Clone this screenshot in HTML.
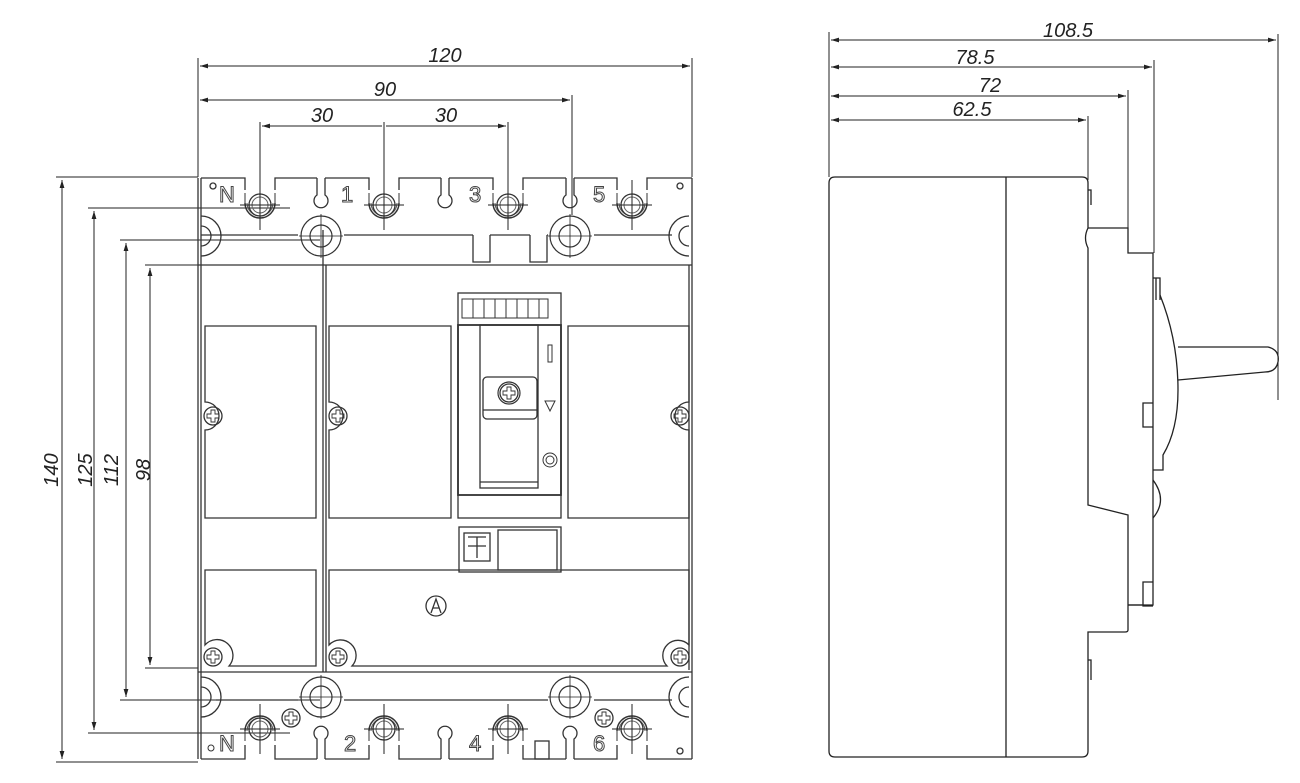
<!DOCTYPE html>
<html><head><meta charset="utf-8"><style>
html,body{margin:0;padding:0;background:#fff}
svg{display:block}
text{font-family:"Liberation Sans",sans-serif}
.d{font-style:italic;font-size:20px;fill:#222}
.l{font-size:22px;fill:#fff;stroke:#444;stroke-width:1}
</style></head><body>
<svg width="1300" height="783" viewBox="0 0 1300 783" xmlns="http://www.w3.org/2000/svg">
<defs>
<marker id="a" viewBox="0 0 10 6" refX="10" refY="3" markerWidth="8" markerHeight="5" orient="auto-start-reverse"><path d="M0,0 L10,3 L0,6 z" fill="#222"/></marker>
<g id="scr"><circle r="9" fill="none" stroke="#333" stroke-width="1.3"/><path d="M-2,-6 h4 v4 h4 v4 h-4 v4 h-4 v-4 h-4 v-4 h4 z" fill="none" stroke="#333" stroke-width="0.9"/></g>
<g id="tt"><path d="M-15,-2 A15,15 0 0 0 15,-2" fill="none" stroke="#333" stroke-width="1.5"/><path d="M-13,-2 A13,13 0 0 0 13,-2" fill="none" stroke="#555" stroke-width="1"/><path d="M-15,-2 v-10 M15,-2 v-10" stroke="#333" fill="none"/><circle r="11" fill="none" stroke="#333" stroke-width="1.3"/><circle r="8" fill="none" stroke="#666"/><path d="M-20,0 H20 M0,-25 V25" stroke="#222"/></g>
<g id="mh"><circle r="20" fill="none" stroke="#333" stroke-width="1.2"/><circle r="11" fill="none" stroke="#333" stroke-width="1.2"/><path d="M-22,0 H22 M0,-22 V22" stroke="#222" stroke-width=".8"/></g>
</defs>
<g stroke="#222" stroke-width="1" fill="none">
<path d="M198,58 V177 M692,58 V177"/>
<path d="M200,66 H690" marker-start="url(#a)" marker-end="url(#a)"/>
<path d="M200,100 H570" marker-start="url(#a)" marker-end="url(#a)"/>
<path d="M572,95 V215"/>
<path d="M260,122 V230 M384,122 V230 M508,122 V230"/>
<path d="M262,126 H382 M386,126 H506" marker-start="url(#a)" marker-end="url(#a)"/>
<path d="M56,177 H198 M56,762 H198"/>
<path d="M88,208 H290 M88,733 H290"/>
<path d="M120,240 H320 M120,700 H320"/>
<path d="M145,265 H198 M145,668 H198"/>
<path d="M62,180 V759" marker-start="url(#a)" marker-end="url(#a)"/>
<path d="M94,211 V730" marker-start="url(#a)" marker-end="url(#a)"/>
<path d="M126,243 V697" marker-start="url(#a)" marker-end="url(#a)"/>
<path d="M150,268 V665" marker-start="url(#a)" marker-end="url(#a)"/>
</g>
<text class="d" transform="translate(58,470) rotate(-90)" text-anchor="middle">140</text>
<text class="d" transform="translate(92,470) rotate(-90)" text-anchor="middle">125</text>
<text class="d" transform="translate(118,470) rotate(-90)" text-anchor="middle">112</text>
<text class="d" transform="translate(150,470) rotate(-90)" text-anchor="middle">98</text>
<text class="d" x="445" y="62" text-anchor="middle">120</text>
<text class="d" x="385" y="96" text-anchor="middle">90</text>
<text class="d" x="322" y="122" text-anchor="middle">30</text>
<text class="d" x="446" y="122" text-anchor="middle">30</text>

<g stroke="#333" stroke-width="1.3" fill="none">
<path d="M198,178 V759 M201,178 V759 M692,178 V759 M689,265 V670"/>
<path d="M201,178 H245 V190 M275,190 V178 H317 M325,178 H369 V190 M399,190 V178 H441 M449,178 H493 V190 M523,190 V178 H566 M574,178 H617 V190 M647,190 V178 H692"/>
<path d="M201,759 H245 V745 M275,745 V759 H317 M325,759 H369 V745 M399,745 V759 H441 M449,759 H493 V745 M523,745 V759 H566 M574,759 H617 V745 M647,745 V759 H692"/>
<path d="M317,178 V195 A7,7 0 1 0 325,195 V178"/>
<path d="M441,178 V195 A7,7 0 1 0 449,195 V178"/>
<path d="M566,178 V195 A7,7 0 1 0 574,195 V178"/>
<path d="M317,759 V739 A7,7 0 1 1 325,739 V759"/>
<path d="M441,759 V739 A7,7 0 1 1 449,739 V759"/>
<path d="M566,759 V739 A7,7 0 1 1 574,739 V759"/>
<rect x="535" y="741" width="14" height="18"/>
<circle cx="213" cy="186" r="3"/><circle cx="680" cy="186" r="3"/>
<circle cx="680" cy="751" r="3"/>
<path d="M201,235 H298 M344,235 H473 M490,235 H530 M547,235 H548 M594,235 H672"/>
<path d="M198,265 H692"/>
<path d="M198,672 H692"/>
<path d="M344,700 H548 M216,700 H298 M594,700 H672"/>
<path d="M323,230 V672 M326,265 V672"/>
<path d="M473,235 V262 H490 V235 M530,235 V262 H547 V235"/>
<path d="M201,216 A20,20 0 0 1 201,256 M201,226 A10,10 0 0 1 201,246"/>
<path d="M689,216 A20,20 0 0 0 689,256 M689,226 A10,10 0 0 0 689,246"/>
<path d="M201,677 A20,20 0 0 1 201,717 M201,687 A10,10 0 0 1 201,707"/>
<path d="M689,677 A20,20 0 0 0 689,717 M689,687 A10,10 0 0 0 689,707"/>
<path d="M205,326 H316 V518 H205 V430 A14,14 0 0 0 205,402 Z"/>
<path d="M329,326 H451 V518 H329 V430 A14,14 0 0 0 329,402 Z"/>
<path d="M568,326 H689 V402 A14,14 0 0 0 689,430 V518 H568 Z"/>
<path d="M205,570 H316 V666 H229 A14,14 0 0 0 205,645 Z"/>
<path d="M329,570 H689 V645 A14,14 0 0 0 667,666 H352 A14,14 0 0 0 329,645 Z"/>
<rect x="458" y="293" width="103" height="225"/>
<rect x="458" y="325" width="103" height="170" stroke-width="1.8"/>
<rect x="480" y="325" width="58" height="163"/>
<path d="M480,482 H538"/>
<rect x="483" y="377" width="54" height="42" rx="4"/>
<path d="M483,410 H537"/>
<rect x="548" y="345" width="4" height="17" stroke-width="1"/>
<path d="M545,401 L555,401 L550,411 Z" stroke-width="1"/>
<circle cx="550" cy="460" r="7" stroke-width="1"/><circle cx="550" cy="460" r="4" stroke-width="1"/>
<rect x="459" y="527" width="102" height="45"/>
<rect x="464" y="533" width="26" height="28"/>
<path d="M468,537 H486 M477,537 V558 M468,546 H486"/>
<rect x="498" y="530" width="59" height="40"/>
<circle cx="436" cy="606" r="10"/><path d="M431,613 L436,599 L441,613 M433,608 H439"/>
</g>
<g stroke="#333" stroke-width="1" fill="none">
<rect x="473" y="299" width="11" height="19"/><rect x="484" y="299" width="11" height="19"/><rect x="495" y="299" width="11" height="19"/><rect x="506" y="299" width="11" height="19"/><rect x="517" y="299" width="11" height="19"/><rect x="528" y="299" width="11" height="19"/><rect x="539" y="299" width="9" height="19"/><rect x="462" y="299" width="11" height="19"/>
</g>
<use href="#scr" x="509" y="393"/>
<circle cx="509" cy="393" r="11" fill="none" stroke="#333" stroke-width="1.2"/>
<use href="#scr" x="213" y="416"/><use href="#scr" x="338" y="416"/><use href="#scr" x="680" y="416"/>
<use href="#scr" x="213" y="657"/><use href="#scr" x="338" y="657"/><use href="#scr" x="680" y="657"/>
<use href="#scr" x="291" y="718"/><use href="#scr" x="604" y="718"/>
<use href="#mh" x="321" y="236"/><use href="#mh" x="570" y="236"/>
<use href="#mh" x="321" y="697"/><use href="#mh" x="570" y="697"/>
<use href="#tt" x="260" y="205"/><use href="#tt" x="384" y="205"/><use href="#tt" x="508" y="205"/><use href="#tt" x="632" y="205"/>
<g transform="translate(0,934) scale(1,-1)"><use href="#tt" x="260" y="205"/><use href="#tt" x="384" y="205"/><use href="#tt" x="508" y="205"/><use href="#tt" x="632" y="205"/></g>
<text class="l" x="219" y="202">N</text><text class="l" x="341" y="202">1</text><text class="l" x="469" y="202">3</text><text class="l" x="593" y="202">5</text>
<text class="l" x="219" y="751">N</text><text class="l" x="344" y="751">2</text><text class="l" x="469" y="751">4</text><text class="l" x="593" y="751">6</text>
<circle cx="211" cy="748" r="3" fill="none" stroke="#333"/>

<g stroke="#222" stroke-width="1" fill="none">
<path d="M829,32 V177 M1278,34 V400 M1154,60 V253 M1128,90 V228 M1088,116 V180"/>
<path d="M831,40 H1276" marker-start="url(#a)" marker-end="url(#a)"/>
<path d="M831,67 H1152" marker-start="url(#a)" marker-end="url(#a)"/>
<path d="M831,96 H1126" marker-start="url(#a)" marker-end="url(#a)"/>
<path d="M831,120 H1086" marker-start="url(#a)" marker-end="url(#a)"/>
</g>
<text class="d" x="1068" y="37" text-anchor="middle">108.5</text>
<text class="d" x="975" y="64" text-anchor="middle">78.5</text>
<text class="d" x="990" y="92" text-anchor="middle">72</text>
<text class="d" x="972" y="116" text-anchor="middle">62.5</text>
<g stroke="#222" stroke-width="1.3" fill="none">
<path d="M835,177 H1082 Q1088,177 1088,183 V228 Q1083,238 1088,248 V505 L1128,515 V630 Q1128,632 1125,632 H1088 V751 Q1088,757 1082,757 H835 Q829,757 829,751 V183 Q829,177 835,177 Z"/>
<path d="M1006,177 V757"/>
<path d="M1088,228 H1128 V253 H1153 V605 H1128"/>
<path d="M1153,278 H1160 V300 M1156,278 V300"/>
<path d="M1160,295 Q1178,340 1178,390 Q1178,430 1163,455 V470 H1153"/>
<path d="M1178,347 H1268 Q1280,350 1278,362 Q1276,372 1265,372 L1178,380"/>
<path d="M1153,480 Q1168,500 1153,518"/>
<path d="M1153,403 H1143 V427 H1153 M1153,582 H1143 V606 H1153 M1128,605 H1143"/>
<path d="M1088,190 H1091 V205 M1088,660 H1091 V680"/>
</g>
</svg>
</body></html>
